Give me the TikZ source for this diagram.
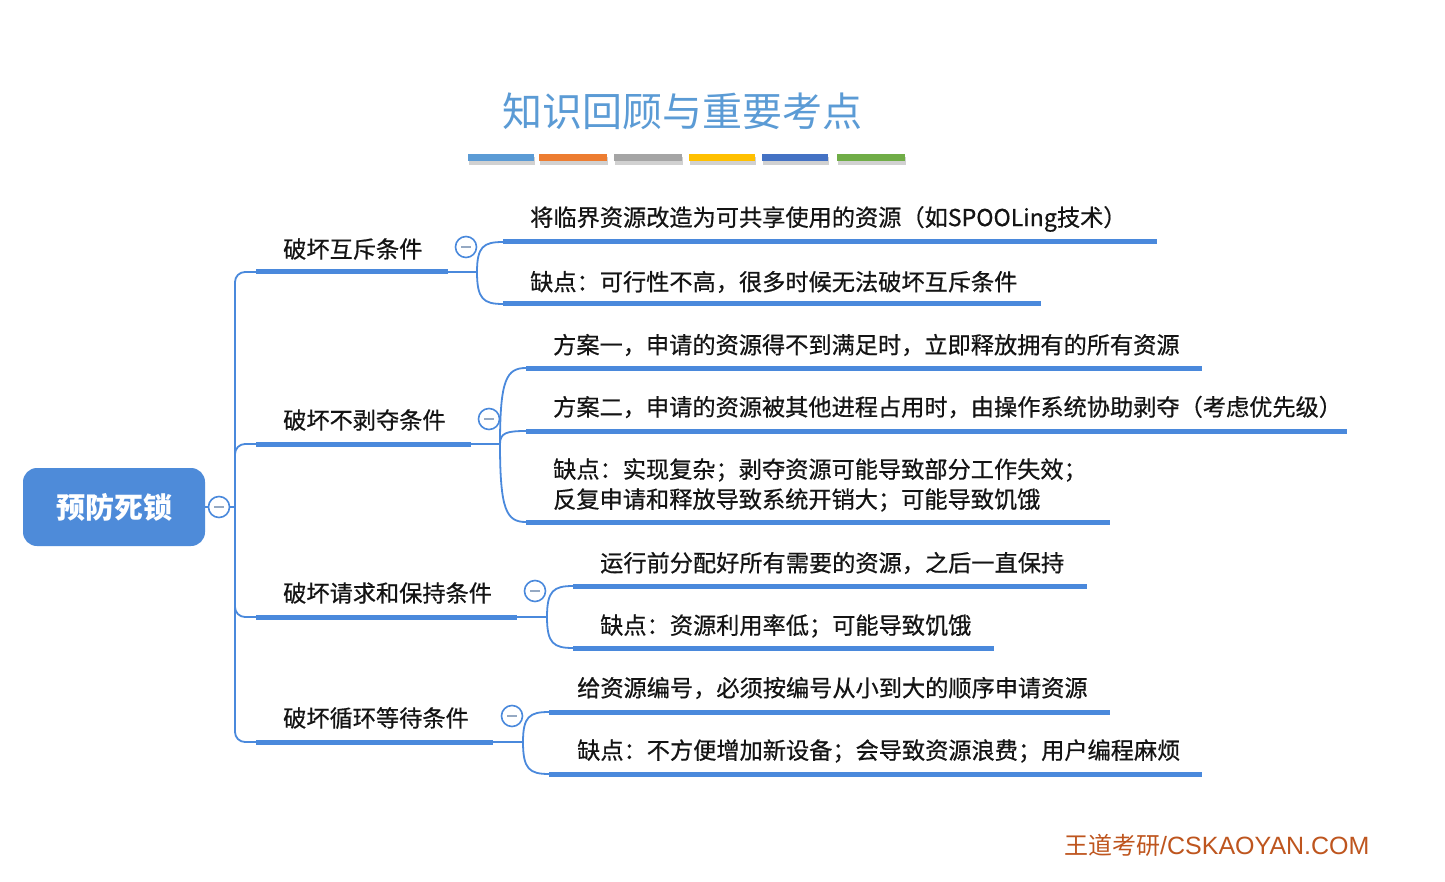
\documentclass[tikz,border=0pt]{standalone}
\usepackage{fontspec}
\setmainfont{Noto Sans CJK SC}
\newfontfamily\medfont[FakeBold=0.6]{Noto Sans CJK SC}
\newfontfamily\latinfont{Liberation Sans}
\usetikzlibrary{calc}
\definecolor{lineblue}{RGB}{74,137,220}
\definecolor{rootblue}{RGB}{78,139,217}
\definecolor{titleblue}{RGB}{91,155,213}
\definecolor{barA}{RGB}{91,155,213}
\definecolor{barB}{RGB}{237,125,49}
\definecolor{barC}{RGB}{165,165,165}
\definecolor{barD}{RGB}{255,192,0}
\definecolor{barE}{RGB}{68,114,196}
\definecolor{barF}{RGB}{112,173,71}
\definecolor{wmcolor}{RGB}{190,85,30}
\definecolor{txtcol}{RGB}{20,20,20}
\begin{document}
\begin{tikzpicture}[x=1pt,y=-1pt,
  txt/.style={anchor=west,inner sep=0pt,font=\medfont\fontsize{23.2}{30}\selectfont,text=txtcol},
  uline/.style={draw=lineblue,line width=5pt},
  thinline/.style={draw=lineblue,line width=1.8pt},
  fold/.style={circle,draw=lineblue,fill=white,line width=1.6pt,minimum size=21pt,inner sep=0pt,
    path picture={\draw[lineblue!45!gray!70,line width=1.6pt] ([xshift=-5pt]path picture bounding box.center) -- ([xshift=5pt]path picture bounding box.center);}},
  root/.style={rectangle,rounded corners=14pt,fill=rootblue,minimum width=182pt,minimum height=78pt,text=white,font=\fontsize{29}{34}\selectfont\bfseries}]
\fill[white] (0,0) rectangle (1445,882);
\useasboundingbox (0,0) rectangle (1445,882);

% title
\node[inner sep=0pt,font=\fontsize{40}{48}\selectfont,text=titleblue] (title) at (682,111) {知识回顾与重要考点};
% colour bars with shadow
\foreach \a/\b/\c in {468/534/barA,539/607/barB,614/682/barC,689/755/barD,762/828/barE,837/905/barF}{
  \fill[black!18] (\a+1,157) rectangle (\b+1,165);
  \fill[\c] (\a,154) rectangle (\b,161);
}

% root
\node[root] (root) at (114,507) {预防死锁};
\node[fold] (f0) at (219,507) {};
\coordinate (tr) at (235,507);
\draw[thinline] (root.east) -- (f0.west);
\draw[thinline] (f0.east) -- (tr);

% branch coordinates
\coordinate (b1s) at (256,272); \coordinate (b1e) at (448,272); \coordinate (b1p) at (477,272);
\coordinate (b2s) at (256,444); \coordinate (b2e) at (471,444); \coordinate (b2p) at (500,444);
\coordinate (b3s) at (256,617); \coordinate (b3e) at (517,617); \coordinate (b3p) at (547,617);
\coordinate (b4s) at (256,742); \coordinate (b4e) at (493,742); \coordinate (b4p) at (523,742);

\foreach \b in {b1,b2,b3,b4}{
  \draw[thinline,rounded corners=10pt] (tr) |- (\b s);
  \draw[uline] (\b s) -- (\b e);
  \draw[thinline] (\b e) -- (\b p);
}

\node[txt] (t1) at (283,249) {破坏互斥条件};
\node[txt] (t2) at (283,420) {破坏不剥夺条件};
\node[txt] (t3) at (283,593) {破坏请求和保持条件};
\node[txt] (t4) at (283,718) {破坏循环等待条件};
\node[fold] (f1) at (466,247) {};
\node[fold] (f2) at (489,419) {};
\node[fold] (f3) at (535,591) {};
\node[fold] (f4) at (512,716) {};

% children coordinates
\coordinate (c11s) at (503,242); \coordinate (c11e) at (1157,242);
\coordinate (c12s) at (503,304); \coordinate (c12e) at (1041,304);
\coordinate (c21s) at (526,368); \coordinate (c21e) at (1202,368);
\coordinate (c22s) at (526,431); \coordinate (c22e) at (1347,431);
\coordinate (c23s) at (526,522); \coordinate (c23e) at (1110,522);
\coordinate (c31s) at (573,586); \coordinate (c31e) at (1087,586);
\coordinate (c32s) at (573,648); \coordinate (c32e) at (994,648);
\coordinate (c41s) at (549,712); \coordinate (c41e) at (1110,712);
\coordinate (c42s) at (549,774); \coordinate (c42e) at (1202,774);

\foreach \p/\c in {b1p/c11,b1p/c12,b2p/c21,b2p/c22,b2p/c23,b3p/c31,b3p/c32,b4p/c41,b4p/c42}{
  \draw[thinline] (\p) .. controls ($(\p)!0.85!(\p |- \c s)$) and ($(\p |- \c s)!0.25!(\c s)$) .. (\c s);
  \draw[uline] (\c s) -- (\c e);
}

\node[txt] (n11) at (530,219) {将临界资源改造为可共享使用的资源（如SPOOLing技术）};
\node[txt] (n12) at (530,282) {缺点：可行性不高，很多时候无法破坏互斥条件};
\node[txt] (n21) at (553,345) {方案一，申请的资源得不到满足时，立即释放拥有的所有资源};
\node[txt] (n22) at (553,407) {方案二，申请的资源被其他进程占用时，由操作系统协助剥夺（考虑优先级）};
\node[txt,align=left] (n23) at (553,485) {缺点：实现复杂；剥夺资源可能导致部分工作失效；\\反复申请和释放导致系统开销大；可能导致饥饿};
\node[txt] (n31) at (600,563) {运行前分配好所有需要的资源，之后一直保持};
\node[txt] (n32) at (600,626) {缺点：资源利用率低；可能导致饥饿};
\node[txt] (n41) at (577,688) {给资源编号，必须按编号从小到大的顺序申请资源};
\node[txt] (n42) at (577,751) {缺点：不方便增加新设备；会导致资源浪费；用户编程麻烦};

% watermark
\node[anchor=west,inner sep=0pt,text=wmcolor,font=\fontsize{24}{28}\selectfont] (wm) at (1064,845) {王道考研{\latinfont\fontsize{25}{28}\selectfont/CSKAOYAN.COM}};
\end{tikzpicture}
\end{document}
